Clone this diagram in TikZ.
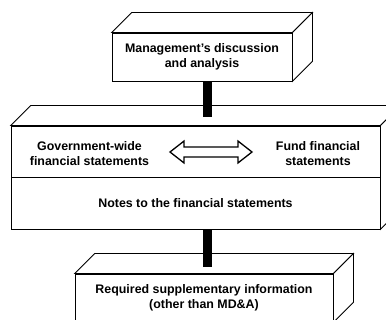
\documentclass[tikz,border=0pt]{standalone}
\usepackage{fontspec}
\setmainfont{Liberation Sans}
\usetikzlibrary{shapes.arrows}

\tikzset{
  face/.style={draw,line width=0.8pt,fill=white,inner sep=0pt},
  side/.style={draw,line width=0.8pt,fill=white},
  caption/.style={align=center,font=\bfseries\fontsize{12.4}{15.5}\selectfont},
  link/.style={line width=9pt,black},
  twoway/.style={double arrow,draw,line width=1.3pt,fill=white,
    minimum height=82pt,inner xsep=0pt,inner ysep=4.3pt,
    double arrow head extend=6pt,double arrow tip angle=76}
}

% top face of #1 and right face from #1 down to #2
\newcommand\slabsides[2]{%
  \draw[side] (#1.north west) -- ([shift={(20,-20)}]#1.north west)
    -- ([shift={(20,-20)}]#1.north east) -- (#1.north east) -- cycle;
  \draw[side] (#1.north east) -- ([shift={(20,-20)}]#1.north east)
    -- ([shift={(20,-20)}]#2.south east) -- (#2.south east) -- cycle;
}

\begin{document}
\begin{tikzpicture}[x=1pt,y=-1pt]

    \clip (0,0) rectangle (386,320);

    \node[face,caption,minimum width=180pt,minimum height=48pt] (mda) at (202,57)
        {Management's discussion\\and analysis};
    \slabsides{mda}{mda}

    \node[face,minimum width=369pt,minimum height=51pt] (gov) at (195.5,151.5) {};
    \node[face,caption,minimum width=369pt,minimum height=52pt] (notes) at (195.5,203)
        {Notes to the financial statements};
    \slabsides{gov}{notes}

    \node[caption] (gwfs) at (89.5,153.5) {Government-wide\\financial statements};
    \node[caption] (ffs) at (318,153.5) {Fund financial\\statements};
    \node[twoway] (both) at (211,152) {};

    \node[face,caption,minimum width=258pt,minimum height=48pt] (rsi) at (204,298)
        {Required supplementary information\\(other than MD\&A)};
    \slabsides{rsi}{rsi}

    \coordinate (spine) at (207.5,0);
    \draw[link] (spine |- mda.south) -- ([yshift=9pt]spine |- gov.north);
    \draw[link] (spine |- notes.south) -- ([yshift=7pt]spine |- rsi.north);

\end{tikzpicture}
\end{document}
